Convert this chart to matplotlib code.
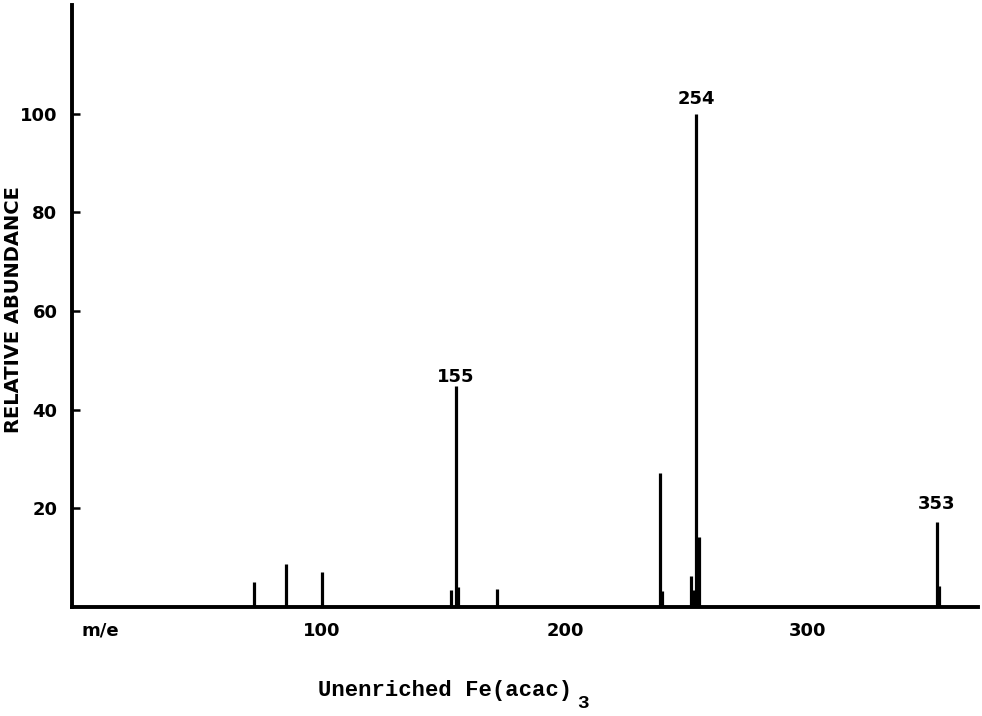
import matplotlib
matplotlib.use("Agg")
import matplotlib.pyplot as plt

# ==============================
# 1. DATA
# ==============================
mz = [72, 85, 100, 153, 155, 156, 172, 239, 240, 252, 253, 254, 255, 353, 354]
abundance = [5.0, 8.7, 7.2, 3.4, 44.8, 4.0, 3.6, 27.2, 3.3, 6.3, 3.5, 100, 14.3, 17.2, 4.2]

labelled_peaks = [155, 254, 353]
y_ticks = [20, 40, 60, 80, 100]
x_ticks = [100, 200, 300]

# ==============================
# 2. FIGURE
# ==============================
fig = plt.figure(figsize=(9.82, 7.16), dpi=100)
ax = fig.add_axes([0.0733, 0.152, 0.9226, 0.841])

sans = "DejaVu Sans"
mono = "Liberation Mono"

ax.vlines(mz, 0, abundance, colors="black", linewidth=2.3)

# gap (in points) between each peak top and its label
label_gap = [0, 4, 7]
for m, gap in zip(labelled_peaks, label_gap):
    h = abundance[mz.index(m)]
    ax.annotate(str(m), (m, h), xytext=(0, gap), textcoords="offset points",
                ha="center", va="bottom",
                fontsize=13, fontweight="bold", family=sans)

ax.set_xlim(-3, 370)
ax.set_ylim(0, 122)

# ==============================
# 3. AXES STYLE
# ==============================
for side in ["top", "right"]:
    ax.spines[side].set_visible(False)
for side in ["left", "bottom"]:
    ax.spines[side].set_linewidth(2.8)

ax.set_yticks(y_ticks)
ax.set_yticklabels([str(v) for v in y_ticks], fontsize=13,
                   fontweight="bold", family=sans)
ax.tick_params(axis="y", direction="in", length=6, width=1.8, pad=10.5)

ax.set_xticks(x_ticks)
ax.set_xticklabels([str(v) for v in x_ticks], fontsize=13,
                   fontweight="bold", family=sans)
ax.tick_params(axis="x", length=0, pad=11)

ax.set_ylabel("RELATIVE ABUNDANCE", fontsize=14, fontweight="bold",
              family=sans)
ax.yaxis.set_label_coords(-0.054, 0.494)

ax.text(8.5, -4.8, "m/e", ha="center", va="center",
        fontsize=13, fontweight="bold", family=sans)

# caption in typewriter style, subscript drawn separately
fig.text(0.3238, 0.036, "Unenriched Fe(acac)", ha="left", va="center",
         fontsize=16, fontweight="bold", family=mono)
fig.text(0.5875, 0.017, "3", ha="left", va="center",
         fontsize=14, fontweight="bold", family=mono)

fig.savefig("out.png", dpi=100)
